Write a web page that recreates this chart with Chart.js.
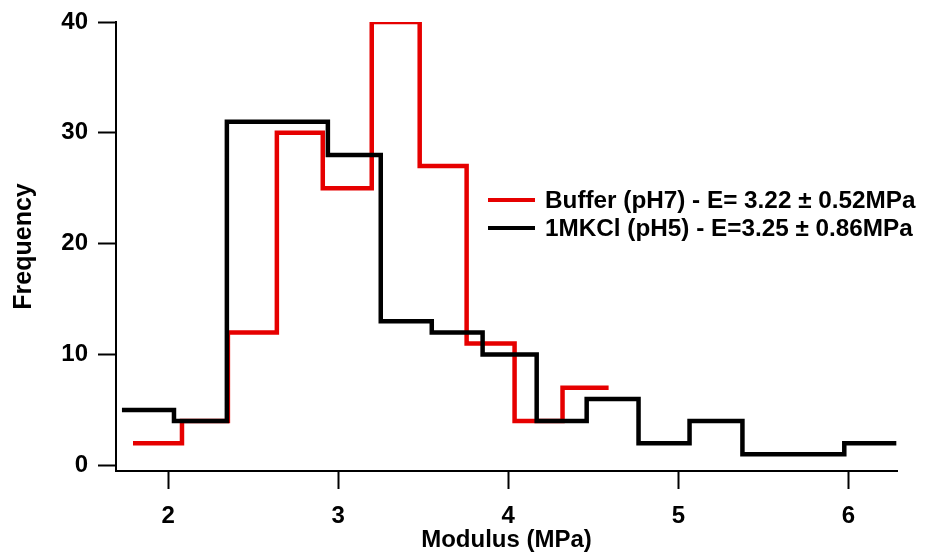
<!DOCTYPE html>
<html>
<head>
<meta charset="utf-8">
<script src="https://cdn.jsdelivr.net/npm/chart.js@4"></script>
<style>
  html, body { margin: 0; padding: 0; background: #fff; }
  #wrap { width: 926px; height: 560px; }
</style>
</head>
<body>
<div id="wrap"><canvas id="c" width="926" height="560"></canvas></div>
<script>
// ---- data ----
const bufferLabel = 'Buffer (pH7) - E= 3.22 \u00b1 0.52MPa';
const kclLabel = '1MKCl (pH5) - E=3.25 \u00b1 0.86MPa';

// bin edges (MPa) and counts
const bufferEdges = [1.793, 2.081, 2.351, 2.639, 2.909, 3.197, 3.479, 3.755, 4.037, 4.319, 4.590];
const bufferCounts = [2, 4, 12, 30, 25, 40, 27, 11, 4, 7];

const kclEdges = [1.728, 2.034, 2.345, 2.639, 2.939, 3.250, 3.550, 3.849, 4.167, 4.461, 4.766, 5.066, 5.377, 5.677, 5.976, 6.282];
const kclCounts = [5, 4, 31, 31, 28, 13, 12, 10, 4, 6, 2, 4, 1, 1, 2];

const xTicks = [2, 3, 4, 5, 6];
const yTicks = [0, 10, 20, 30, 40];

const xMin = 1.693, xMax = 6.286;
const yMin = -0.5, yMax = 40;

// ---- build step points ----
function stepPoints(edges, counts) {
  const pts = counts.map((c, i) => ({ x: edges[i], y: c }));
  pts.push({ x: edges[edges.length - 1], y: counts[counts.length - 1] });
  return pts;
}

const RED = '#e60000';
const BLACK = '#000000';
const FONT = "'Liberation Sans', Arial, Helvetica, sans-serif";

const legendPlugin = {
  id: 'customLegend',
  afterDatasetsDraw(chart) {
    const ctx = chart.ctx;
    const items = [chart.data.datasets[1], chart.data.datasets[0]];
    const x0 = 488, x1 = 535, tx = 545;
    const ys = [200, 228];
    ctx.save();
    ctx.font = 'bold 24.3px ' + FONT;
    ctx.textBaseline = 'middle';
    ctx.textAlign = 'left';
    items.forEach((ds, i) => {
      ctx.strokeStyle = ds.borderColor;
      ctx.lineWidth = 4;
      ctx.beginPath();
      ctx.moveTo(x0, ys[i]);
      ctx.lineTo(x1, ys[i]);
      ctx.stroke();
      ctx.fillStyle = '#000';
      ctx.fillText(ds.label, tx, ys[i] + 1);
    });
    ctx.restore();
  }
};

new Chart(document.getElementById('c'), {
  type: 'line',
  data: {
    datasets: [
      {
        label: kclLabel,
        data: stepPoints(kclEdges, kclCounts),
        borderColor: BLACK,
        borderWidth: 4.5,
        stepped: 'before',
        pointRadius: 0,
        fill: false,
        borderJoinStyle: 'miter'
      },
      {
        label: bufferLabel,
        data: stepPoints(bufferEdges, bufferCounts),
        borderColor: RED,
        borderWidth: 4.5,
        stepped: 'before',
        pointRadius: 0,
        fill: false,
        borderJoinStyle: 'miter'
      }
    ]
  },
  plugins: [legendPlugin],
  options: {
    responsive: false,
    animation: false,
    events: [],
    layout: { padding: { top: 20, right: 29, left: 0, bottom: 0 } },
    plugins: {
      legend: { display: false },
      tooltip: { enabled: false },
      title: { display: false }
    },
    scales: {
      x: {
        type: 'linear',
        min: xMin,
        max: xMax,
        afterBuildTicks(scale) { scale.ticks = xTicks.map(v => ({ value: v })); },
        afterFit(scale) { scale.height = 89; },
        grid: {
          display: true,
          drawOnChartArea: false,
          drawTicks: true,
          tickLength: 18,
          tickWidth: 2,
          tickColor: '#000'
        },
        border: { display: true, color: '#000', width: 2 },
        ticks: {
          color: '#000',
          font: { family: FONT, size: 24, weight: 'bold' },
          padding: 13,
          maxRotation: 0,
          autoSkip: false
        },
        title: {
          display: true,
          text: 'Modulus (MPa)',
          color: '#000',
          font: { family: FONT, size: 24, weight: 'bold' },
          padding: { top: 0, bottom: 5 }
        }
      },
      y: {
        type: 'linear',
        min: yMin,
        max: yMax,
        afterBuildTicks(scale) { scale.ticks = yTicks.map(v => ({ value: v })); },
        afterFit(scale) { scale.width = 116; },
        grid: {
          display: true,
          drawOnChartArea: false,
          drawTicks: true,
          tickLength: 18,
          tickWidth: 2,
          tickColor: '#000'
        },
        border: { display: true, color: '#000', width: 2 },
        ticks: {
          color: '#000',
          font: { family: FONT, size: 24, weight: 'bold', lineHeight: 1 },
          padding: 10,
          autoSkip: false
        },
        title: {
          display: true,
          text: 'Frequency',
          color: '#000',
          font: { family: FONT, size: 25, weight: 'bold' },
          padding: { top: 9, bottom: 0 }
        }
      }
    }
  }
});
</script>
</body>
</html>
